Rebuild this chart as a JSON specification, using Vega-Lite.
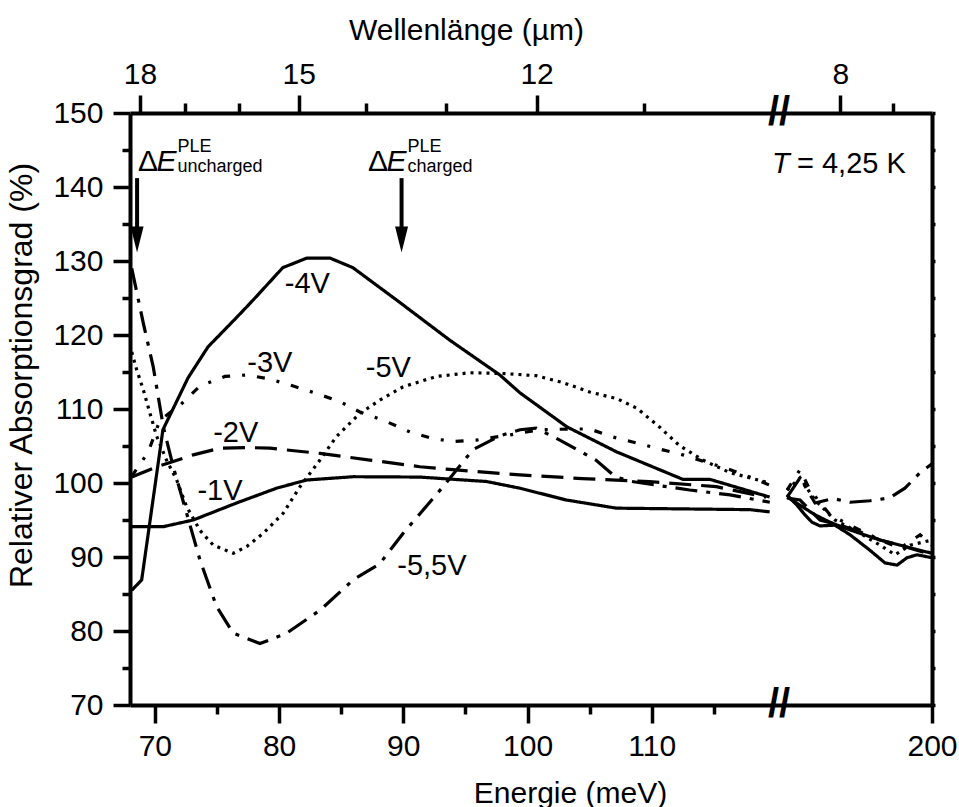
{
  "$schema": "https://vega.github.io/schema/vega-lite/v6.json",
  "width": 802,
  "height": 592,
  "padding": {"left": 5, "top": 15, "right": 4, "bottom": 0},
  "background": "white",
  "config": {
    "view": {"stroke": null},
    "font": "Liberation Sans",
    "axis": {
      "grid": false,
      "domainColor": "black",
      "domainWidth": 4,
      "tickColor": "black",
      "tickWidth": 3.5,
      "labelFont": "Liberation Sans",
      "labelFontSize": 30,
      "labelColor": "black",
      "labelFlush": false,
      "labelOverlap": false,
      "titleFont": "Liberation Sans",
      "titleFontSize": 30,
      "titleFontWeight": "normal",
      "titleColor": "black"
    },
    "text": {"font": "Liberation Sans", "color": "black"}
  },
  "datasets": {
    "curves": [
      {"s": "-4V", "g": "a", "E": 68.14, "v": 85.5},
      {"s": "-4V", "g": "a", "E": 68.94, "v": 86.9},
      {"s": "-4V", "g": "a", "E": 70.65, "v": 107.2},
      {"s": "-4V", "g": "a", "E": 72.67, "v": 114.2},
      {"s": "-4V", "g": "a", "E": 74.28, "v": 118.4},
      {"s": "-4V", "g": "a", "E": 76.6, "v": 122.4},
      {"s": "-4V", "g": "a", "E": 77.9, "v": 124.7},
      {"s": "-4V", "g": "a", "E": 80.3, "v": 129.1},
      {"s": "-4V", "g": "a", "E": 82.24, "v": 130.4},
      {"s": "-4V", "g": "a", "E": 84.09, "v": 130.4},
      {"s": "-4V", "g": "a", "E": 85.94, "v": 129.1},
      {"s": "-4V", "g": "a", "E": 89.48, "v": 124.7},
      {"s": "-4V", "g": "a", "E": 93.74, "v": 119.3},
      {"s": "-4V", "g": "a", "E": 97.77, "v": 114.6},
      {"s": "-4V", "g": "a", "E": 99.38, "v": 112.2},
      {"s": "-4V", "g": "a", "E": 103.16, "v": 107.6},
      {"s": "-4V", "g": "a", "E": 107.18, "v": 104.2},
      {"s": "-4V", "g": "a", "E": 112.49, "v": 100.5},
      {"s": "-4V", "g": "a", "E": 114.66, "v": 100.5},
      {"s": "-4V", "g": "a", "E": 119.49, "v": 98.1},
      {"s": "-4V", "g": "b", "E": 129.4, "v": 98.1},
      {"s": "-4V", "g": "b", "E": 135.7, "v": 97.0},
      {"s": "-4V", "g": "b", "E": 143.0, "v": 95.7},
      {"s": "-4V", "g": "b", "E": 150.3, "v": 94.7},
      {"s": "-4V", "g": "b", "E": 157.6, "v": 93.9},
      {"s": "-4V", "g": "b", "E": 164.9, "v": 93.2},
      {"s": "-4V", "g": "b", "E": 174.7, "v": 92.3},
      {"s": "-4V", "g": "b", "E": 184.4, "v": 91.6},
      {"s": "-4V", "g": "b", "E": 200.0, "v": 90.5},

      {"s": "-1V", "g": "a", "E": 68.14, "v": 94.1},
      {"s": "-1V", "g": "a", "E": 70.68, "v": 94.1},
      {"s": "-1V", "g": "a", "E": 73.09, "v": 95.0},
      {"s": "-1V", "g": "a", "E": 76.58, "v": 97.3},
      {"s": "-1V", "g": "a", "E": 79.8, "v": 99.3},
      {"s": "-1V", "g": "a", "E": 82.21, "v": 100.4},
      {"s": "-1V", "g": "a", "E": 85.96, "v": 100.85},
      {"s": "-1V", "g": "a", "E": 91.33, "v": 100.8},
      {"s": "-1V", "g": "a", "E": 96.7, "v": 100.2},
      {"s": "-1V", "g": "a", "E": 99.38, "v": 99.3},
      {"s": "-1V", "g": "a", "E": 103.13, "v": 97.7},
      {"s": "-1V", "g": "a", "E": 107.15, "v": 96.6},
      {"s": "-1V", "g": "a", "E": 112.51, "v": 96.5},
      {"s": "-1V", "g": "a", "E": 117.88, "v": 96.4},
      {"s": "-1V", "g": "a", "E": 119.49, "v": 96.1},
      {"s": "-1V", "g": "b", "E": 129.4, "v": 98.4},
      {"s": "-1V", "g": "b", "E": 134.2, "v": 97.0},
      {"s": "-1V", "g": "b", "E": 138.1, "v": 95.7},
      {"s": "-1V", "g": "b", "E": 141.5, "v": 94.7},
      {"s": "-1V", "g": "b", "E": 145.4, "v": 94.2},
      {"s": "-1V", "g": "b", "E": 152.7, "v": 94.3},
      {"s": "-1V", "g": "b", "E": 160.1, "v": 93.0},
      {"s": "-1V", "g": "b", "E": 169.8, "v": 90.9},
      {"s": "-1V", "g": "b", "E": 177.1, "v": 89.2},
      {"s": "-1V", "g": "b", "E": 183.0, "v": 88.9},
      {"s": "-1V", "g": "b", "E": 187.8, "v": 89.9},
      {"s": "-1V", "g": "b", "E": 192.7, "v": 90.3},
      {"s": "-1V", "g": "b", "E": 200.0, "v": 89.9},

      {"s": "-2V", "g": "a", "E": 68.14, "v": 100.8},
      {"s": "-2V", "g": "a", "E": 70.15, "v": 102.2},
      {"s": "-2V", "g": "a", "E": 71.48, "v": 102.9},
      {"s": "-2V", "g": "a", "E": 73.09, "v": 103.8},
      {"s": "-2V", "g": "a", "E": 75.24, "v": 104.7},
      {"s": "-2V", "g": "a", "E": 77.39, "v": 104.8},
      {"s": "-2V", "g": "a", "E": 79.26, "v": 104.7},
      {"s": "-2V", "g": "a", "E": 83.29, "v": 104.0},
      {"s": "-2V", "g": "a", "E": 87.31, "v": 103.1},
      {"s": "-2V", "g": "a", "E": 91.33, "v": 102.2},
      {"s": "-2V", "g": "a", "E": 93.99, "v": 101.8},
      {"s": "-2V", "g": "a", "E": 99.38, "v": 101.1},
      {"s": "-2V", "g": "a", "E": 104.4, "v": 100.6},
      {"s": "-2V", "g": "a", "E": 109.8, "v": 100.2},
      {"s": "-2V", "g": "a", "E": 115.2, "v": 99.5},
      {"s": "-2V", "g": "a", "E": 119.2, "v": 98.1},
      {"s": "-2V", "g": "b", "E": 129.4, "v": 97.97},
      {"s": "-2V", "g": "b", "E": 135.7, "v": 97.7},
      {"s": "-2V", "g": "b", "E": 145.4, "v": 95.0},
      {"s": "-2V", "g": "b", "E": 155.2, "v": 94.3},
      {"s": "-2V", "g": "b", "E": 164.9, "v": 93.4},
      {"s": "-2V", "g": "b", "E": 174.7, "v": 92.3},
      {"s": "-2V", "g": "b", "E": 184.4, "v": 91.6},
      {"s": "-2V", "g": "b", "E": 200.0, "v": 90.3},

      {"s": "-3V", "g": "a", "E": 68.14, "v": 100.9},
      {"s": "-3V", "g": "a", "E": 69.47, "v": 104.2},
      {"s": "-3V", "g": "a", "E": 70.41, "v": 108.5},
      {"s": "-3V", "g": "a", "E": 72.02, "v": 110.5},
      {"s": "-3V", "g": "a", "E": 73.63, "v": 113.1},
      {"s": "-3V", "g": "a", "E": 75.64, "v": 114.4},
      {"s": "-3V", "g": "a", "E": 77.39, "v": 114.6},
      {"s": "-3V", "g": "a", "E": 79.26, "v": 114.05},
      {"s": "-3V", "g": "a", "E": 81.14, "v": 113.1},
      {"s": "-3V", "g": "a", "E": 83.01, "v": 112.1},
      {"s": "-3V", "g": "a", "E": 84.89, "v": 111.0},
      {"s": "-3V", "g": "a", "E": 86.5, "v": 109.6},
      {"s": "-3V", "g": "a", "E": 88.64, "v": 108.3},
      {"s": "-3V", "g": "a", "E": 90.53, "v": 106.9},
      {"s": "-3V", "g": "a", "E": 92.38, "v": 106.0},
      {"s": "-3V", "g": "a", "E": 93.99, "v": 105.6},
      {"s": "-3V", "g": "a", "E": 95.89, "v": 105.8},
      {"s": "-3V", "g": "a", "E": 98.57, "v": 106.5},
      {"s": "-3V", "g": "a", "E": 101.0, "v": 107.2},
      {"s": "-3V", "g": "a", "E": 103.4, "v": 107.3},
      {"s": "-3V", "g": "a", "E": 105.0, "v": 107.3},
      {"s": "-3V", "g": "a", "E": 106.9, "v": 106.2},
      {"s": "-3V", "g": "a", "E": 108.8, "v": 105.4},
      {"s": "-3V", "g": "a", "E": 110.6, "v": 104.6},
      {"s": "-3V", "g": "a", "E": 112.5, "v": 103.8},
      {"s": "-3V", "g": "a", "E": 114.4, "v": 102.8},
      {"s": "-3V", "g": "a", "E": 116.0, "v": 102.0},
      {"s": "-3V", "g": "a", "E": 117.9, "v": 100.8},
      {"s": "-3V", "g": "a", "E": 119.5, "v": 99.7},
      {"s": "-3V", "g": "b", "E": 129.4, "v": 99.05},
      {"s": "-3V", "g": "b", "E": 135.7, "v": 101.8},
      {"s": "-3V", "g": "b", "E": 140.6, "v": 99.05},
      {"s": "-3V", "g": "b", "E": 150.3, "v": 95.7},
      {"s": "-3V", "g": "b", "E": 160.1, "v": 94.3},
      {"s": "-3V", "g": "b", "E": 174.7, "v": 92.3},
      {"s": "-3V", "g": "b", "E": 184.4, "v": 91.2},
      {"s": "-3V", "g": "b", "E": 194.2, "v": 93.0},
      {"s": "-3V", "g": "b", "E": 200.0, "v": 91.6},

      {"s": "-5V", "g": "a", "E": 68.14, "v": 117.7},
      {"s": "-5V", "g": "a", "E": 68.54, "v": 115.3},
      {"s": "-5V", "g": "a", "E": 69.07, "v": 112.6},
      {"s": "-5V", "g": "a", "E": 69.61, "v": 109.4},
      {"s": "-5V", "g": "a", "E": 70.15, "v": 106.3},
      {"s": "-5V", "g": "a", "E": 70.94, "v": 103.1},
      {"s": "-5V", "g": "a", "E": 71.76, "v": 100.4},
      {"s": "-5V", "g": "a", "E": 72.56, "v": 96.8},
      {"s": "-5V", "g": "a", "E": 73.63, "v": 93.6},
      {"s": "-5V", "g": "a", "E": 74.7, "v": 91.6},
      {"s": "-5V", "g": "a", "E": 76.31, "v": 90.5},
      {"s": "-5V", "g": "a", "E": 77.39, "v": 91.4},
      {"s": "-5V", "g": "a", "E": 78.72, "v": 93.2},
      {"s": "-5V", "g": "a", "E": 80.33, "v": 95.9},
      {"s": "-5V", "g": "a", "E": 81.68, "v": 99.5},
      {"s": "-5V", "g": "a", "E": 83.29, "v": 103.1},
      {"s": "-5V", "g": "a", "E": 84.63, "v": 106.3},
      {"s": "-5V", "g": "a", "E": 86.5, "v": 109.4},
      {"s": "-5V", "g": "a", "E": 88.11, "v": 111.2},
      {"s": "-5V", "g": "a", "E": 89.99, "v": 113.0},
      {"s": "-5V", "g": "a", "E": 92.67, "v": 114.4},
      {"s": "-5V", "g": "a", "E": 95.35, "v": 114.9},
      {"s": "-5V", "g": "a", "E": 98.0, "v": 114.8},
      {"s": "-5V", "g": "a", "E": 100.7, "v": 114.5},
      {"s": "-5V", "g": "a", "E": 102.8, "v": 113.6},
      {"s": "-5V", "g": "a", "E": 105.0, "v": 112.3},
      {"s": "-5V", "g": "a", "E": 107.2, "v": 111.4},
      {"s": "-5V", "g": "a", "E": 108.8, "v": 110.1},
      {"s": "-5V", "g": "a", "E": 110.6, "v": 107.6},
      {"s": "-5V", "g": "a", "E": 112.2, "v": 105.1},
      {"s": "-5V", "g": "a", "E": 114.1, "v": 103.1},
      {"s": "-5V", "g": "a", "E": 116.3, "v": 101.4},
      {"s": "-5V", "g": "a", "E": 119.5, "v": 100.0},
      {"s": "-5V", "g": "b", "E": 129.4, "v": 99.05},
      {"s": "-5V", "g": "b", "E": 135.7, "v": 100.7},
      {"s": "-5V", "g": "b", "E": 143.0, "v": 97.7},
      {"s": "-5V", "g": "b", "E": 152.7, "v": 95.0},
      {"s": "-5V", "g": "b", "E": 162.5, "v": 93.6},
      {"s": "-5V", "g": "b", "E": 174.7, "v": 91.6},
      {"s": "-5V", "g": "b", "E": 182.0, "v": 90.3},
      {"s": "-5V", "g": "b", "E": 189.3, "v": 91.6},
      {"s": "-5V", "g": "b", "E": 200.0, "v": 92.3},

      {"s": "-5,5V", "g": "a", "E": 68.14, "v": 129.0},
      {"s": "-5,5V", "g": "a", "E": 69.07, "v": 121.6},
      {"s": "-5,5V", "g": "a", "E": 69.87, "v": 115.7},
      {"s": "-5,5V", "g": "a", "E": 70.68, "v": 107.6},
      {"s": "-5,5V", "g": "a", "E": 71.48, "v": 102.2},
      {"s": "-5,5V", "g": "a", "E": 72.56, "v": 95.9},
      {"s": "-5,5V", "g": "a", "E": 73.63, "v": 89.6},
      {"s": "-5,5V", "g": "a", "E": 74.97, "v": 83.3},
      {"s": "-5,5V", "g": "a", "E": 76.31, "v": 79.7},
      {"s": "-5,5V", "g": "a", "E": 78.46, "v": 78.3},
      {"s": "-5,5V", "g": "a", "E": 80.6, "v": 79.7},
      {"s": "-5,5V", "g": "a", "E": 83.29, "v": 82.8},
      {"s": "-5,5V", "g": "a", "E": 85.96, "v": 86.9},
      {"s": "-5,5V", "g": "a", "E": 88.11, "v": 89.1},
      {"s": "-5,5V", "g": "a", "E": 89.99, "v": 93.2},
      {"s": "-5,5V", "g": "a", "E": 93.2, "v": 99.5},
      {"s": "-5,5V", "g": "a", "E": 95.6, "v": 104.5},
      {"s": "-5,5V", "g": "a", "E": 97.8, "v": 106.4},
      {"s": "-5,5V", "g": "a", "E": 99.4, "v": 107.2},
      {"s": "-5,5V", "g": "a", "E": 100.7, "v": 107.4},
      {"s": "-5,5V", "g": "a", "E": 102.6, "v": 105.8},
      {"s": "-5,5V", "g": "a", "E": 105.5, "v": 103.1},
      {"s": "-5,5V", "g": "a", "E": 107.1, "v": 100.8},
      {"s": "-5,5V", "g": "a", "E": 108.4, "v": 100.2},
      {"s": "-5,5V", "g": "a", "E": 113.05, "v": 99.05},
      {"s": "-5,5V", "g": "a", "E": 116.3, "v": 98.4},
      {"s": "-5,5V", "g": "a", "E": 119.5, "v": 97.4},
      {"s": "-5,5V", "g": "b", "E": 129.4, "v": 98.1},
      {"s": "-5,5V", "g": "b", "E": 135.7, "v": 100.7},
      {"s": "-5,5V", "g": "b", "E": 143.0, "v": 97.3},
      {"s": "-5,5V", "g": "b", "E": 151.8, "v": 97.9},
      {"s": "-5,5V", "g": "b", "E": 160.1, "v": 97.4},
      {"s": "-5,5V", "g": "b", "E": 169.8, "v": 97.6},
      {"s": "-5,5V", "g": "b", "E": 179.5, "v": 98.0},
      {"s": "-5,5V", "g": "b", "E": 186.8, "v": 99.3},
      {"s": "-5,5V", "g": "b", "E": 194.2, "v": 101.4},
      {"s": "-5,5V", "g": "b", "E": 200.0, "v": 102.6}
    ],
    "curveLabels": [
      {"t": "-4V", "E": 82.28, "v": 125.7},
      {"t": "-3V", "E": 79.26, "v": 115.0},
      {"t": "-5V", "E": 88.8, "v": 114.3},
      {"t": "-2V", "E": 76.51, "v": 105.5},
      {"t": "-1V", "E": 75.24, "v": 97.7},
      {"t": "-5,5V", "E": 92.3, "v": 87.6}
    ],
    "arrows": [
      {"E": 68.57, "from": 141.2, "to": 134.5, "head": 132.9},
      {"E": 89.86, "from": 141.2, "to": 134.5, "head": 132.9}
    ],
    "deltaLabels": [
      {"E": 68.64, "v": 142.16, "sub": "uncharged"},
      {"E": 87.15, "v": 142.16, "sub": "charged"}
    ],
    "breaks": [
      {"E": 122, "v": 150},
      {"E": 122, "v": 70}
    ],
    "temperature": [
      {"E": 134.23, "v": 141.9, "t": "= 4,25 K"}
    ]
  },
  "resolve": {"axis": {"x": "independent", "y": "independent"}},
  "layer": [
    {
      "data": {"name": "curves"},
      "mark": {"type": "line", "strokeWidth": 3.2, "color": "black"},
      "encoding": {
        "x": {
          "field": "E", "type": "quantitative",
          "scale": {"domain": [68, 120, 124, 200], "range": [0, 646, 646, 802], "nice": false, "zero": false},
          "axis": {
            "orient": "bottom",
            "title": "Energie (meV)",
            "values": [70, 75, 80, 85, 90, 95, 100, 105, 110, 115, 200],
            "labelExpr": "datum.value % 10 === 0 ? datum.label : ''",
            "tickSize": {"condition": {"test": "datum.value % 10 === 0", "value": 18}, "value": 9},
            "labelPadding": 8,
            "titlePadding": 17,
            "titleX": 440
          }
        },
        "y": {
          "field": "v", "type": "quantitative",
          "scale": {"domain": [70, 150], "nice": false, "zero": false},
          "axis": {
            "orient": "left",
            "title": "Relativer Absorptionsgrad (%)",
            "titleFontSize": 32,
            "titleY": 262,
            "values": [70, 75, 80, 85, 90, 95, 100, 105, 110, 115, 120, 125, 130, 135, 140, 145, 150],
            "labelExpr": "datum.value % 10 === 0 ? datum.label : ''",
            "tickSize": {"condition": {"test": "datum.value % 10 === 0", "value": 17}, "value": 8},
            "labelPadding": 10,
            "titlePadding": 14
          }
        },
        "strokeDash": {
          "field": "s", "type": "nominal", "legend": null,
          "scale": {
            "domain": ["-1V", "-2V", "-3V", "-4V", "-5V", "-5,5V"],
            "range": [[1, 0], [22, 10], [8, 12, 3, 12], [1, 0], [3, 5], [22, 9, 4, 9]]
          }
        },
        "detail": {"field": "g"}
      }
    },
    {
      "data": {"name": "curveLabels"},
      "mark": {"type": "text", "fontSize": 29, "align": "center", "baseline": "alphabetic"},
      "encoding": {
        "x": {
          "field": "E", "type": "quantitative",
          "scale": {"domain": [68, 120, 124, 200], "range": [0, 646, 646, 802], "nice": false, "zero": false},
          "axis": {
            "orient": "top",
            "title": "Wellenlänge (µm)",
            "values": [68.8, 72.45, 76.79, 81.58, 87.01, 93.42, 100.73, 109.37, 155.4, 180.8],
            "labelExpr": "datum.value === 68.8 ? '18' : datum.value === 81.58 ? '15' : datum.value === 100.73 ? '12' : datum.value === 155.4 ? '8' : ''",
            "tickSize": {"condition": {"test": "indexof([68.8, 81.58, 100.73, 155.4], datum.value) >= 0", "value": 18}, "value": 10},
            "labelPadding": 6,
            "titlePadding": 14,
            "titleX": 336
          }
        },
        "y": {
          "field": "v", "type": "quantitative",
          "scale": {"domain": [70, 150], "nice": false, "zero": false},
          "axis": {
            "orient": "right",
            "title": null,
            "values": [70, 75, 80, 85, 90, 95, 100, 105, 110, 115, 120, 125, 130, 135, 140, 145, 150],
            "labels": false,
            "tickSize": 3
          }
        },
        "text": {"field": "t"}
      }
    },
    {
      "data": {"name": "arrows"},
      "mark": {"type": "rule", "strokeWidth": 4, "color": "black"},
      "encoding": {
        "x": {"field": "E", "type": "quantitative", "scale": {"domain": [68, 120, 124, 200], "range": [0, 646, 646, 802], "nice": false, "zero": false}, "axis": null},
        "y": {"field": "from", "type": "quantitative", "scale": {"domain": [70, 150], "nice": false, "zero": false}, "axis": null},
        "y2": {"field": "to"}
      }
    },
    {
      "data": {"name": "arrows"},
      "mark": {"type": "point", "shape": "M-0.5,-1L0.5,-1L0,1Z", "size": 676, "filled": true, "color": "black", "opacity": 1},
      "encoding": {
        "x": {"field": "E", "type": "quantitative", "scale": {"domain": [68, 120, 124, 200], "range": [0, 646, 646, 802], "nice": false, "zero": false}, "axis": null},
        "y": {"field": "head", "type": "quantitative", "scale": {"domain": [70, 150], "nice": false, "zero": false}, "axis": null}
      }
    },
    {
      "data": {"name": "deltaLabels"},
      "mark": {"type": "text", "fontSize": 30, "align": "left", "baseline": "alphabetic", "text": "Δ"},
      "encoding": {
        "x": {"field": "E", "type": "quantitative", "scale": {"domain": [68, 120, 124, 200], "range": [0, 646, 646, 802], "nice": false, "zero": false}, "axis": null},
        "y": {"field": "v", "type": "quantitative", "scale": {"domain": [70, 150], "nice": false, "zero": false}, "axis": null}
      }
    },
    {
      "data": {"name": "deltaLabels"},
      "mark": {"type": "text", "fontSize": 30, "fontStyle": "italic", "align": "left", "baseline": "alphabetic", "text": "E", "dx": 18.5},
      "encoding": {
        "x": {"field": "E", "type": "quantitative", "scale": {"domain": [68, 120, 124, 200], "range": [0, 646, 646, 802], "nice": false, "zero": false}, "axis": null},
        "y": {"field": "v", "type": "quantitative", "scale": {"domain": [70, 150], "nice": false, "zero": false}, "axis": null}
      }
    },
    {
      "data": {"name": "deltaLabels"},
      "mark": {"type": "text", "fontSize": 18, "align": "left", "baseline": "alphabetic", "dx": 39.5, "dy": 1},
      "encoding": {
        "x": {"field": "E", "type": "quantitative", "scale": {"domain": [68, 120, 124, 200], "range": [0, 646, 646, 802], "nice": false, "zero": false}, "axis": null},
        "y": {"field": "v", "type": "quantitative", "scale": {"domain": [70, 150], "nice": false, "zero": false}, "axis": null},
        "text": {"field": "sub"}
      }
    },
    {
      "data": {"name": "deltaLabels"},
      "mark": {"type": "text", "fontSize": 18, "align": "left", "baseline": "alphabetic", "dx": 39.5, "dy": -19, "text": "PLE"},
      "encoding": {
        "x": {"field": "E", "type": "quantitative", "scale": {"domain": [68, 120, 124, 200], "range": [0, 646, 646, 802], "nice": false, "zero": false}, "axis": null},
        "y": {"field": "v", "type": "quantitative", "scale": {"domain": [70, 150], "nice": false, "zero": false}, "axis": null}
      }
    },
    {
      "data": {"name": "temperature"},
      "mark": {"type": "text", "fontSize": 29, "align": "left", "baseline": "alphabetic"},
      "encoding": {
        "x": {"field": "E", "type": "quantitative", "scale": {"domain": [68, 120, 124, 200], "range": [0, 646, 646, 802], "nice": false, "zero": false}, "axis": null},
        "y": {"field": "v", "type": "quantitative", "scale": {"domain": [70, 150], "nice": false, "zero": false}, "axis": null},
        "text": {"field": "t"}
      }
    },
    {
      "data": {"name": "temperature"},
      "mark": {"type": "text", "fontSize": 29, "fontStyle": "italic", "align": "left", "baseline": "alphabetic", "text": "T", "dx": -25},
      "encoding": {
        "x": {"field": "E", "type": "quantitative", "scale": {"domain": [68, 120, 124, 200], "range": [0, 646, 646, 802], "nice": false, "zero": false}, "axis": null},
        "y": {"field": "v", "type": "quantitative", "scale": {"domain": [70, 150], "nice": false, "zero": false}, "axis": null}
      }
    },
    {
      "data": {"name": "breaks"},
      "mark": {"type": "text", "fontSize": 40, "fontWeight": "bold", "align": "center", "baseline": "middle", "text": "//", "dx": 3},
      "encoding": {
        "x": {"field": "E", "type": "quantitative", "scale": {"domain": [68, 120, 124, 200], "range": [0, 646, 646, 802], "nice": false, "zero": false}, "axis": null},
        "y": {"field": "v", "type": "quantitative", "scale": {"domain": [70, 150], "nice": false, "zero": false}, "axis": null}
      }
    }
  ]
}
